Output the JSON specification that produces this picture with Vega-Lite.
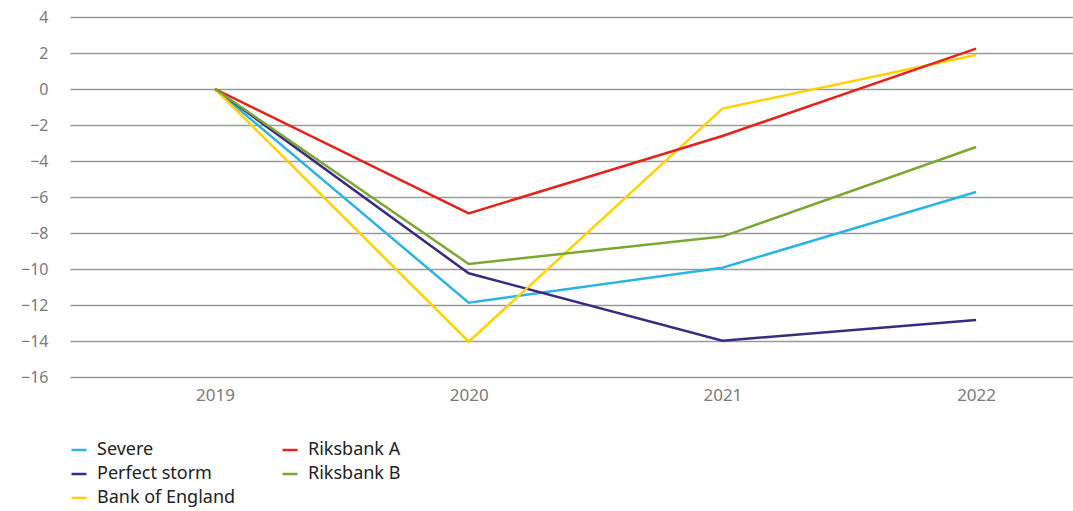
{
  "$schema": "https://vega.github.io/schema/vega-lite/v6.json",
  "autosize": "none",
  "width": 1003,
  "height": 360,
  "padding": {"left": 70, "top": 17, "right": 0, "bottom": 134},
  "background": "white",
  "config": {
    "view": {"stroke": null},
    "font": "Noto Sans"
  },
  "data": {
    "values": [
      {"year": 2019, "series": "Severe", "value": 0},
      {"year": 2020, "series": "Severe", "value": -11.87},
      {"year": 2021, "series": "Severe", "value": -9.93},
      {"year": 2022, "series": "Severe", "value": -5.72},
      {"year": 2019, "series": "Perfect storm", "value": 0},
      {"year": 2020, "series": "Perfect storm", "value": -10.24},
      {"year": 2021, "series": "Perfect storm", "value": -13.98},
      {"year": 2022, "series": "Perfect storm", "value": -12.83},
      {"year": 2019, "series": "Bank of England", "value": 0},
      {"year": 2020, "series": "Bank of England", "value": -14.04},
      {"year": 2021, "series": "Bank of England", "value": -1.09},
      {"year": 2022, "series": "Bank of England", "value": 1.89},
      {"year": 2019, "series": "Riksbank A", "value": 0},
      {"year": 2020, "series": "Riksbank A", "value": -6.91},
      {"year": 2021, "series": "Riksbank A", "value": -2.61},
      {"year": 2022, "series": "Riksbank A", "value": 2.24},
      {"year": 2019, "series": "Riksbank B", "value": 0},
      {"year": 2020, "series": "Riksbank B", "value": -9.72},
      {"year": 2021, "series": "Riksbank B", "value": -8.2},
      {"year": 2022, "series": "Riksbank B", "value": -3.22}
    ]
  },
  "mark": {"type": "line", "strokeWidth": 2.5},
  "encoding": {
    "x": {
      "field": "year",
      "type": "quantitative",
      "scale": {"domain": [2018.4285, 2022.382], "nice": false, "zero": false},
      "axis": {
        "title": null,
        "values": [2019, 2020, 2021, 2022],
        "format": "d",
        "grid": false,
        "domain": false,
        "ticks": false,
        "labelPadding": 10,
        "labelFontSize": 17,
        "labelColor": "#7a7a7a"
      }
    },
    "y": {
      "field": "value",
      "type": "quantitative",
      "scale": {"domain": [-16, 4], "nice": false, "zero": false},
      "axis": {
        "title": null,
        "values": [-16, -14, -12, -10, -8, -6, -4, -2, 0, 2, 4],
        "grid": true,
        "gridColor": "#9a9a9a",
        "gridWidth": 1.6,
        "domain": false,
        "ticks": false,
        "labelPadding": 22,
        "labelFontSize": 16,
        "labelColor": "#7a7a7a"
      }
    },
    "color": {
      "field": "series",
      "type": "nominal",
      "scale": {
        "domain": ["Severe", "Perfect storm", "Bank of England", "Riksbank A", "Riksbank B"],
        "range": ["#2bb4e2", "#3a2a80", "#ffd200", "#e4241c", "#7aa833"]
      },
      "legend": {
        "title": null,
        "orient": "none",
        "legendX": 0,
        "legendY": 424,
        "columns": 2,
        "columnPadding": 41,
        "rowPadding": 6,
        "symbolType": "stroke",
        "symbolSize": 225,
        "symbolStrokeWidth": 2.5,
        "labelFontSize": 18,
        "labelColor": "#222222",
        "labelOffset": 9
      }
    }
  }
}
